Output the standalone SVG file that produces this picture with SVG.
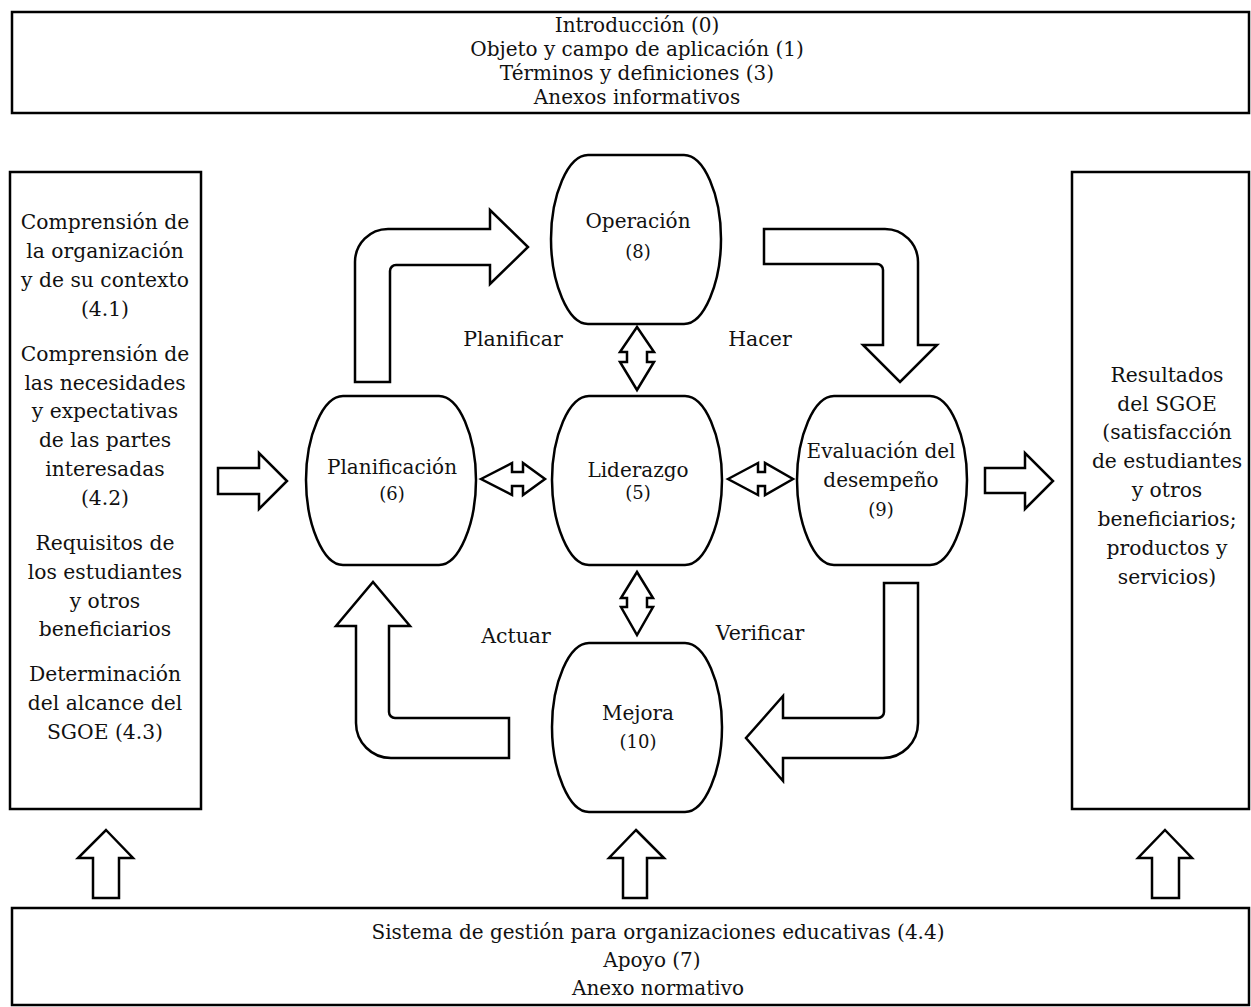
<svg xmlns="http://www.w3.org/2000/svg" width="1251" height="1007" viewBox="0 0 1251 1007">
<style>
.box{fill:#fff;stroke:#000;stroke-width:2.5}
.node{fill:#fff;stroke:#000;stroke-width:2.5}
.arr{fill:#fff;stroke:#000;stroke-width:2.5;stroke-linejoin:miter}
text{font-family:"DejaVu Serif","Liberation Serif",serif;fill:#111;text-anchor:middle}
.t{font-size:20px}
.s{font-size:20.3px}
.n{font-size:20px}
.m{font-size:18px}
.l{font-size:20.5px}
</style>
<defs>
<path id="barrel" d="M37,0 H133 C153,0 170,40 170,84 C170,128 153,169 133,169 H37 C17,169 0,128 0,84 C0,40 17,0 37,0 Z"/>
</defs>
<g id="top">
<rect class="box" x="12" y="12" width="1237" height="101"/>
<text class="t" x="637" y="32">Introducción (0)</text>
<text class="t" x="637" y="56">Objeto y campo de aplicación (1)</text>
<text class="t" x="637" y="80">Términos y definiciones (3)</text>
<text class="t" x="637" y="104">Anexos informativos</text>
</g>
<g id="left">
<rect class="box" x="10" y="172" width="191" height="637"/>
<text class="s" x="105" y="229">Comprensión de</text>
<text class="s" x="105" y="258">la organización</text>
<text class="s" x="105" y="287">y de su contexto</text>
<text class="s" x="105" y="316">(4.1)</text>
<text class="s" x="105" y="361">Comprensión de</text>
<text class="s" x="105" y="390">las necesidades</text>
<text class="s" x="105" y="418">y expectativas</text>
<text class="s" x="105" y="447">de las partes</text>
<text class="s" x="105" y="476">interesadas</text>
<text class="s" x="105" y="505">(4.2)</text>
<text class="s" x="105" y="550">Requisitos de</text>
<text class="s" x="105" y="579">los estudiantes</text>
<text class="s" x="105" y="608">y otros</text>
<text class="s" x="105" y="636">beneficiarios</text>
<text class="s" x="105" y="681">Determinación</text>
<text class="s" x="105" y="710">del alcance del</text>
<text class="s" x="105" y="739">SGOE (4.3)</text>
</g>
<g id="right">
<rect class="box" x="1072" y="172" width="177" height="637"/>
<text class="s" x="1167" y="382">Resultados</text>
<text class="s" x="1167" y="411">del SGOE</text>
<text class="s" x="1167" y="439">(satisfacción</text>
<text class="s" x="1167" y="468">de estudiantes</text>
<text class="s" x="1167" y="497">y otros</text>
<text class="s" x="1167" y="526">beneficiarios;</text>
<text class="s" x="1167" y="555">productos y</text>
<text class="s" x="1167" y="584">servicios)</text>
</g>
<g id="bottom">
<rect class="box" x="12" y="908" width="1237" height="97"/>
<text class="t" x="658" y="939">Sistema de gestión para organizaciones educativas (4.4)</text>
<text class="t" x="652" y="967">Apoyo (7)</text>
<text class="t" x="658" y="995">Anexo normativo</text>
</g>
<g id="operacion">
<use href="#barrel" class="node" x="551" y="155"/>
<text class="n" x="638" y="228">Operación</text>
<text class="m" x="638" y="258">(8)</text>
</g>
<g id="planificacion">
<use href="#barrel" class="node" x="306" y="396"/>
<text class="n" x="392" y="474">Planificación</text>
<text class="m" x="392" y="500">(6)</text>
</g>
<g id="liderazgo">
<use href="#barrel" class="node" x="552" y="396"/>
<text class="n" x="638" y="477">Liderazgo</text>
<text class="m" x="638" y="499">(5)</text>
</g>
<g id="evaluacion">
<use href="#barrel" class="node" x="797" y="396"/>
<text class="n" x="881" y="458">Evaluación del</text>
<text class="n" x="881" y="487">desempeño</text>
<text class="m" x="881" y="516">(9)</text>
</g>
<g id="mejora">
<use href="#barrel" class="node" x="552" y="643"/>
<text class="n" x="638" y="720">Mejora</text>
<text class="m" x="638" y="748">(10)</text>
</g>
<g id="labels">
<text class="l" x="513" y="346">Planificar</text>
<text class="l" x="760" y="346">Hacer</text>
<text class="l" x="516" y="643">Actuar</text>
<text class="l" x="760" y="640">Verificar</text>
</g>
<g id="connectors">
<path class="arr" d="M355,382 L355,262 A33,33 0 0 1 388,229 L490,229 L490,210 L528,247 L490,284 L490,265 L396,265 A6,6 0 0 0 390,271 L390,382 Z"/>
<path class="arr" d="M764,229 L885,229 A33,33 0 0 1 918,262 L918,345 L937,345 L900,382 L863,345 L883,345 L883,270 A6,6 0 0 0 877,264 L764,264 Z"/>
<path class="arr" d="M884,583 L918,583 L918,723 A35,35 0 0 1 883,758 L783,758 L783,781 L746,738 L783,696 L783,718 L878,718 A6,6 0 0 0 884,712 Z"/>
<path class="arr" d="M509,718 L395,718 A6,6 0 0 1 389,712 L389,626 L410,626 L373,582 L336,626 L356,626 L356,723 A35,35 0 0 0 391,758 L509,758 Z"/>
<path class="arr" d="M218,468 L259,468 L259,453 L287,481 L259,509 L259,494 L218,494 Z"/>
<path class="arr" d="M985,468 L1025,468 L1025,453 L1053,481 L1025,509 L1025,493 L985,493 Z"/>
<path class="arr" d="M481,479 L512,463 L512,472 L523,472 L523,463 L545,479 L523,495 L523,486 L512,486 L512,495 Z"/>
<path class="arr" d="M728,479 L758,463 L758,472 L765,472 L765,463 L793,479 L765,495 L765,486 L758,486 L758,495 Z"/>
<path class="arr" d="M637,327 L654,352 L647,352 L647,362 L654,362 L637,390 L620,362 L627,362 L627,352 L620,352 Z"/>
<path class="arr" d="M637,572 L653,598 L647,598 L647,607 L653,607 L637,635 L621,607 L627,607 L627,598 L621,598 Z"/>
<path class="arr" d="M106,830 L133,858 L119,858 L119,898 L93,898 L93,858 L78,858 Z"/>
<path class="arr" d="M636,830 L664,858 L647,858 L647,898 L623,898 L623,858 L609,858 Z"/>
<path class="arr" d="M1165,830 L1192,858 L1179,858 L1179,898 L1152,898 L1152,858 L1138,858 Z"/>
</g>
</svg>
